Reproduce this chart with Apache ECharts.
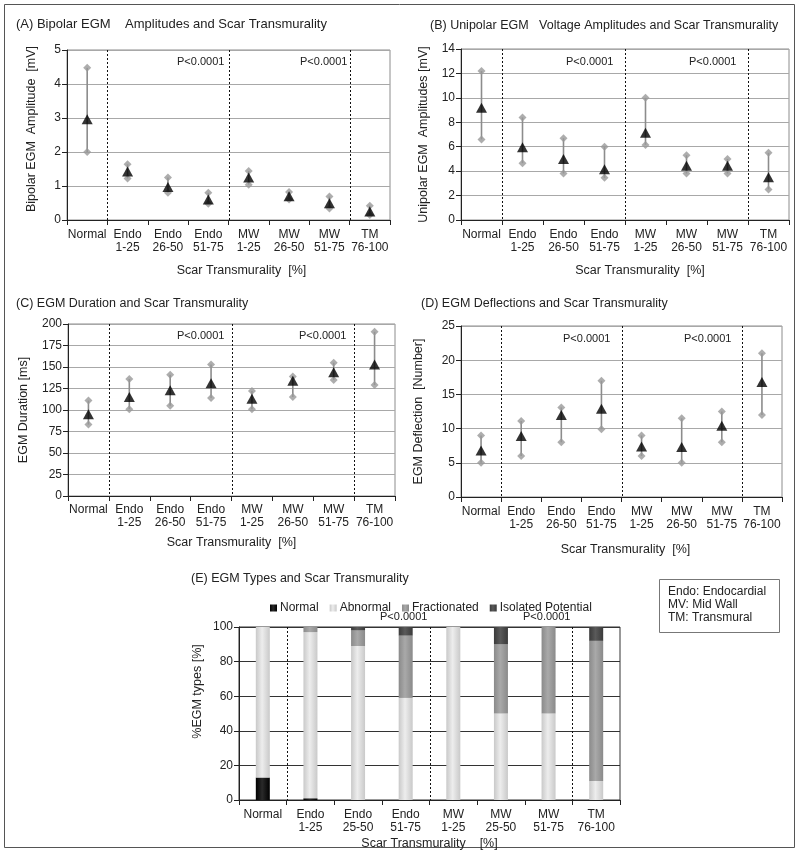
<!DOCTYPE html>
<html>
<head>
<meta charset="utf-8">
<script src="https://cdn.jsdelivr.net/npm/echarts@6/dist/echarts.min.js"></script>
<style>
html,body{margin:0;padding:0;background:#fff;}
#chart{width:800px;height:862px;}
</style>
</head>
<body>
<div id="chart"></div>
<script>
// ---------- data ----------
const catsAD = ['Normal','Endo\n1-25','Endo\n26-50','Endo\n51-75','MW\n1-25','MW\n26-50','MW\n51-75','TM\n76-100'];
const catsE  = ['Normal','Endo\n1-25','Endo\n25-50','Endo\n51-75','MW\n1-25','MW\n25-50','MW\n51-75','TM\n76-100'];
const groupStarts = [1, 4, 7];

// (A) Bipolar amplitude [mV]
const bipolarMean = [2.96, 1.43, 0.97, 0.60, 1.25, 0.70, 0.49, 0.25];
const bipolarHigh = [4.48, 1.64, 1.25, 0.80, 1.44, 0.82, 0.69, 0.42];
const bipolarLow  = [2.00, 1.22, 0.80, 0.48, 1.04, 0.60, 0.34, 0.15];
const bipolarTicks = [0, 1, 2, 3, 4, 5];

// (B) Unipolar amplitude [mV]
const unipolarMean = [9.2, 5.95, 5.0, 4.15, 7.15, 4.45, 4.45, 3.5];
const unipolarHigh = [12.2, 8.4, 6.7, 6.0, 10.0, 5.3, 5.0, 5.5];
const unipolarLow  = [6.6, 4.65, 3.8, 3.45, 6.15, 3.8, 3.8, 2.5];
const unipolarTicks = [0, 2, 4, 6, 8, 10, 12, 14];

// (C) Duration [ms]
const durationMean = [95, 115, 123, 131, 113, 134, 144, 153];
const durationHigh = [111, 136, 141, 153, 122, 139, 155, 191];
const durationLow  = [83, 101, 105, 114, 101, 115, 135, 129];
const durationTicks = [0, 25, 50, 75, 100, 125, 150, 175, 200];

// (D) Deflections [Number]
const deflMean = [6.8, 8.9, 12.0, 12.9, 7.4, 7.3, 10.4, 16.8];
const deflHigh = [9.0, 11.1, 13.1, 17.0, 9.0, 11.5, 12.5, 21.0];
const deflLow  = [5.0, 6.0, 8.0, 9.9, 6.0, 5.0, 8.0, 12.0];
const deflTicks = [0, 5, 10, 15, 20, 25];

// (E) EGM types [%]
const typeNormal       = [13, 1, 0, 0, 0, 0, 0, 0];
const typeAbnormal     = [87, 96, 89, 59, 100, 50, 50, 11];
const typeFractionated = [0, 3, 9, 36, 0, 40, 50, 81];
const typeIsolated     = [0, 0, 2, 5, 0, 10, 0, 8];
const typeTicks = [0, 20, 40, 60, 80, 100];

// ---------- styling ----------
const FONT = "'Liberation Sans', Arial, sans-serif";
const TXT = '#222';

const chart = echarts.init(document.getElementById('chart'));

const grids = [
  {left: 67,  top: 50,  width: 323, height: 170},
  {left: 461, top: 49,  width: 328, height: 171},
  {left: 68,  top: 324, width: 327, height: 172},
  {left: 461, top: 326, width: 321, height: 171},
  {left: 239, top: 627, width: 381, height: 173}
].map((g, i) => Object.assign({show: true, borderColor: i === 4 ? '#333' : '#8c8c8c', borderWidth: 1, backgroundColor: 'transparent', containLabel: false}, g));

const yNames = ['Bipolar EGM  Amplitude  [mV]', 'Unipolar EGM  Amplitudes [mV]', 'EGM Duration [ms]', 'EGM Deflection  [Number]', '%EGM types [%]'];
const yTicks = [bipolarTicks, unipolarTicks, durationTicks, deflTicks, typeTicks];
const yNameGaps = [29, 31, 38, 36, 35];
const yNamePads = [[0,0,0,12], [0,0,0,0], [0,0,0,0], [0,0,0,0], [0,0,0,44]];
const xNameGaps = [44, 44, 40, 46, 37];
const xNamePads = [[0,0,0,26], [0,0,0,30], [0,0,0,0], [0,0,0,8], [0,0,0,0]];

const xAxes = [0,1,2,3,4].map(i => ({
  type: 'category',
  gridIndex: i,
  data: i === 4 ? catsE : catsAD,
  name: i === 4 ? 'Scar Transmurality    [%]' : 'Scar Transmurality  [%]',
  nameLocation: 'middle',
  nameGap: xNameGaps[i],
  nameTextStyle: {fontFamily: FONT, fontSize: 12.5, color: TXT, padding: xNamePads[i]},
  axisLine: {show: true, lineStyle: {color: '#222', width: 1}},
  axisTick: {show: true, length: 5, lineStyle: {color: '#222'}},
  axisLabel: {fontFamily: FONT, fontSize: 12, color: TXT, lineHeight: 13, margin: i === 2 ? 7 : 8, interval: 0},
  splitLine: {show: false}
}));

const yAxes = [0,1,2,3,4].map(i => {
  const t = yTicks[i];
  return {
    type: 'value',
    gridIndex: i,
    min: t[0],
    max: t[t.length - 1],
    interval: t[1] - t[0],
    name: yNames[i],
    nameLocation: 'middle',
    nameGap: yNameGaps[i],
    nameTextStyle: {fontFamily: FONT, fontSize: 12.5, color: TXT, padding: yNamePads[i]},
    axisLine: {show: true, lineStyle: {color: '#222', width: 1}},
    axisTick: {show: true, length: 5, lineStyle: {color: '#222'}},
    axisLabel: {fontFamily: FONT, fontSize: 12, color: TXT, margin: 6},
    splitLine: {show: true, lineStyle: {color: i === 4 ? '#333' : '#a8a8a8', width: 1}}
  };
});

function separatorSeries(gi) {
  return {
    type: 'custom',
    xAxisIndex: gi, yAxisIndex: gi,
    silent: true,
    z: 1,
    data: groupStarts.map(s => [s, 0]),
    renderItem: function (params, api) {
      const c = api.coord([api.value(0), 0]);
      const bw = api.size([1, 0])[0];
      const cs = params.coordSys;
      const x = Math.round(c[0] - bw / 2) + 0.5;
      return {
        type: 'line',
        shape: {x1: x, y1: cs.y, x2: x, y2: cs.y + cs.height},
        style: {stroke: '#111', lineWidth: 1, lineDash: [2, 2]}
      };
    }
  };
}

function errorPanel(gi, mean, high, low) {
  return [
    separatorSeries(gi),
    {
      type: 'custom',
      xAxisIndex: gi, yAxisIndex: gi,
      z: 2,
      data: mean.map((m, i) => [i, low[i], high[i]]),
      encode: {x: 0, y: [1, 2]},
      renderItem: function (params, api) {
        const lo = api.coord([api.value(0), api.value(1)]);
        const hi = api.coord([api.value(0), api.value(2)]);
        return {
          type: 'line',
          shape: {x1: lo[0], y1: lo[1], x2: hi[0], y2: hi[1]},
          style: {stroke: '#8c8c8c', lineWidth: 1.6}
        };
      }
    },
    {
      type: 'scatter', xAxisIndex: gi, yAxisIndex: gi, z: 3,
      symbol: 'diamond', symbolSize: 8,
      itemStyle: {color: '#999'},
      data: high.map((v, i) => [i, v])
    },
    {
      type: 'scatter', xAxisIndex: gi, yAxisIndex: gi, z: 3,
      symbol: 'diamond', symbolSize: 8,
      itemStyle: {color: '#999'},
      data: low.map((v, i) => [i, v])
    },
    {
      type: 'scatter', xAxisIndex: gi, yAxisIndex: gi, z: 4,
      symbol: 'triangle', symbolSize: [11, 10],
      itemStyle: {color: '#000'},
      data: mean.map((v, i) => [i, v])
    }
  ];
}

function grad(edge, mid) {
  return new echarts.graphic.LinearGradient(0, 0, 1, 0, [
    {offset: 0, color: edge}, {offset: 0.45, color: mid}, {offset: 1, color: edge}
  ]);
}

function barSeries(name, data, color) {
  return {
    name: name,
    type: 'bar',
    stack: 'types',
    xAxisIndex: 4, yAxisIndex: 4,
    barWidth: 14,
    z: 3,
    itemStyle: {color: color},
    data: data
  };
}

const series = [].concat(
  errorPanel(0, bipolarMean, bipolarHigh, bipolarLow),
  errorPanel(1, unipolarMean, unipolarHigh, unipolarLow),
  errorPanel(2, durationMean, durationHigh, durationLow),
  errorPanel(3, deflMean, deflHigh, deflLow),
  [separatorSeries(4)],
  [
    barSeries('Normal', typeNormal, grad('#000', '#2a2a2a')),
    barSeries('Abnormal', typeAbnormal, grad('#c9c9c9', '#ededed')),
    barSeries('Fractionated', typeFractionated, grad('#8a8a8a', '#a9a9a9')),
    barSeries('Isolated Potential', typeIsolated, grad('#3a3a3a', '#5a5a5a'))
  ]
);

const titleStyle = {fontFamily: FONT, fontSize: 12.5, fontWeight: 'normal', color: TXT};
const titles = [
  {text: '(A) Bipolar EGM    Amplitudes and Scar Transmurality', left: 16, top: 18, textStyle: Object.assign({}, titleStyle, {fontSize: 13})},
  {text: '(B) Unipolar EGM   Voltage Amplitudes and Scar Transmurality', left: 430, top: 19},
  {text: '(C) EGM Duration and Scar Transmurality', left: 16, top: 297},
  {text: '(D) EGM Deflections and Scar Transmurality', left: 421, top: 297},
  {text: '(E) EGM Types and Scar Transmurality', left: 191, top: 572}
].map(t => Object.assign({textStyle: titleStyle, padding: 0}, t));

const pStyle = {text: 'P<0.0001', fontFamily: FONT, fontSize: 11, fill: TXT};
function pText(x, y) {
  return {type: 'text', left: x, top: y, style: Object.assign({}, pStyle), z: 10};
}

chart.setOption({
  animation: false,
  backgroundColor: '#fff',
  title: titles,
  grid: grids,
  xAxis: xAxes,
  yAxis: yAxes,
  legend: {
    left: 265, top: 597,
    itemWidth: 7, itemHeight: 7, itemGap: 11,
    icon: 'rect',
    textStyle: {fontFamily: FONT, fontSize: 12, color: TXT, padding: [0, 0, 0, -2]},
    data: ['Normal', 'Abnormal', 'Fractionated', 'Isolated Potential']
  },
  series: series,
  graphic: [
    {type: 'rect', shape: {x: 4.5, y: 4.5, width: 790, height: 843}, style: {fill: 'none', stroke: '#555', lineWidth: 1}, z: -1, silent: true},
    pText(177, 56), pText(300, 56),
    pText(566, 56), pText(689, 56),
    pText(177, 330), pText(299, 330),
    pText(563, 333), pText(684, 333),
    pText(380, 611), pText(523, 611),
    {type: 'rect', shape: {x: 659.5, y: 579.5, width: 120, height: 53}, style: {fill: '#fff', stroke: '#777', lineWidth: 1}, silent: true},
    {type: 'text', left: 668, top: 585, style: {text: 'Endo: Endocardial\nMV: Mid Wall\nTM: Transmural', fontFamily: FONT, fontSize: 12, lineHeight: 13, fill: TXT}}
  ]
});
</script>
</body>
</html>
